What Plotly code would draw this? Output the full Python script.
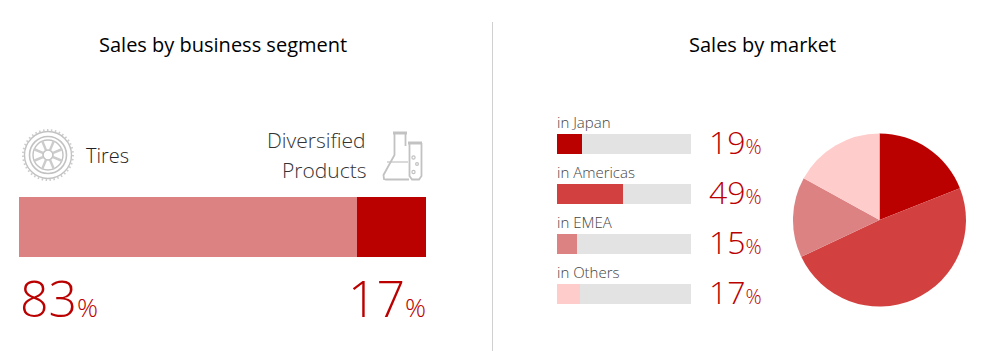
import math
import plotly.graph_objects as go

W, H = 984, 351
segments = ["Tires", "Diversified Products"]
segment_values = [83, 17]
segment_colors = ["#dc8282", "#bb0000"]
markets = ["in Japan", "in Americas", "in EMEA", "in Others"]
market_values = [19, 49, 15, 17]
market_colors = ["#bb0000", "#d34040", "#dc8282", "#ffcccc"]
TRACK = "#e3e3e3"
RED = "#bb0000"
FONT = "Open Sans"

def px(x): return x / W
def py(y): return 1 - y / H

fig = go.Figure()

for name, v, c in zip(segments, segment_values, segment_colors):
    fig.add_trace(go.Bar(x=[v], y=["share"], orientation="h", marker=dict(color=c, line_width=0),
                         name=name, xaxis="x", yaxis="y", width=1, showlegend=False))
fig.add_trace(go.Bar(x=market_values, y=markets, orientation="h", width=0.4,
                     marker=dict(color=market_colors, line_width=0), xaxis="x2", yaxis="y2", showlegend=False))
fig.add_trace(go.Bar(x=[100 - v for v in market_values], y=markets, orientation="h", width=0.4,
                     marker=dict(color=TRACK, line_width=0), xaxis="x2", yaxis="y2", showlegend=False))
fig.add_trace(go.Pie(labels=markets, values=market_values, sort=False, direction="clockwise", rotation=0,
                     marker=dict(colors=market_colors, line=dict(width=0)), textinfo="none",
                     domain=dict(x=[px(793), px(966)], y=[py(306.5), py(133.5)]), showlegend=False))

hidden = dict(visible=False, fixedrange=True)
layout = dict(
    width=W, height=H, margin=dict(l=0, r=0, t=0, b=0), barmode="stack",
    paper_bgcolor="white", plot_bgcolor="white",
    xaxis=dict(domain=[px(19), px(426)], range=[0, 100], anchor="y", **hidden),
    yaxis=dict(domain=[py(257), py(197)], range=[-0.5, 0.5], type="category", anchor="x", **hidden),
    xaxis2=dict(domain=[px(557), px(691)], range=[0, 100], anchor="y2", **hidden),
    yaxis2=dict(domain=[py(319), py(119)], range=[3.5, -0.5], type="category",
                categoryorder="array", categoryarray=markets, anchor="x2", **hidden),
)

ann = []
def text(x, y, s, size, color="#222222", anchor="left", weight=300):
    ann.append(dict(x=px(x), y=py(y), xref="paper", yref="paper", text=s, showarrow=False,
                    xanchor=anchor, yanchor="middle", align=anchor,
                    font=dict(family=FONT, size=size, color=color, weight=weight), borderpad=0, borderwidth=0))

text(222.5, 45, "Sales by business segment", 20, "#000000", "center", 400)
text(762, 45, "Sales by market", 20, "#000000", "center", 400)
text(86, 155, segments[0], 20, "#222222")
text(366, 140, "Diversified", 21, "#333333", "right")
text(366, 170, "Products", 21, "#333333", "right")

def pct(xr, ybot, v, big, small):
    # number and % sign share one text so they sit on one baseline
    ann.append(dict(x=px(xr), y=py(ybot), xref="paper", yref="paper", showarrow=False,
                    xanchor="right", yanchor="bottom",
                    text=f'{v}<span style="font-size:{small}px">%</span>',
                    font=dict(family=FONT, size=big, color=RED, weight=300)))

pct(100, 334, segment_values[0], 50, 26)
pct(428, 334, segment_values[1], 50, 26)
for i, (m, v) in enumerate(zip(markets, market_values)):
    y = 122 + 50 * i
    text(557, y, m, 15, "#444444")
    pct(764, 165 + 50 * i, v, 32, 20)

shapes = [dict(type="line", xref="paper", yref="paper", x0=px(492.5), x1=px(492.5), y0=py(22), y1=py(351),
               line=dict(color="#d0d0d0", width=1))]

GREY = "#c2c2c2"
def circle(cx, cy, r, w=1, color=GREY, dash=None):
    line = dict(color=color, width=w)
    if dash: line["dash"] = dash
    shapes.append(dict(type="circle", xref="paper", yref="paper", x0=px(cx - r), x1=px(cx + r),
                       y0=py(cy + r), y1=py(cy - r), line=line))
def seg(x0, y0, x1, y1, w=1, color=GREY):
    shapes.append(dict(type="line", xref="paper", yref="paper", x0=px(x0), x1=px(x1), y0=py(y0), y1=py(y1),
                       line=dict(color=color, width=w)))
def poly(pts, w=1.5, color=GREY, close=False):
    d = "M" + " L".join(f"{px(x):.5f},{py(y):.5f}" for x, y in pts) + (" Z" if close else "")
    shapes.append(dict(type="path", xref="paper", yref="paper", path=d, line=dict(color=color, width=w)))

# tire icon
cx, cy = 48, 155
circle(cx, cy, 25, 2, "#cccccc", "1.5px,2.5px")
circle(cx, cy, 23.5, 1.4)
circle(cx, cy, 18.5, 1.6)
circle(cx, cy, 15, 1.4)
circle(cx, cy, 5, 1.6)
for k in range(8):
    a = math.pi * (k / 4 + 0.125)
    seg(cx + 5 * math.cos(a), cy + 5 * math.sin(a), cx + 15 * math.cos(a), cy + 15 * math.sin(a), 2.5, "#cccccc")

# flask icon
poly([(393, 133), (407, 133)], 3)
poly([(394.5, 134), (394.5, 155), (383.5, 175), (384, 179), (386, 179.5), (409, 179.5)], 1.8)
poly([(405.5, 134), (405.5, 146)], 1.8)
poly([(387, 162), (408, 162)], 1.2)
poly([(408, 143), (422, 143)], 3)
poly([(409.5, 143), (409.5, 176), (412, 179.5), (419, 179.5), (421.5, 176), (421.5, 143)], 1.8)
circle(413.5, 157.5, 1.6, 1.2)
circle(417, 164, 1.4, 1.2)
circle(413.5, 172, 1.6, 1.2)

layout["annotations"] = ann
layout["shapes"] = shapes
fig.update_layout(**layout)
fig.write_html("out.html", config=dict(displayModeBar=False),
               post_script="document.body.style.margin='0';")
